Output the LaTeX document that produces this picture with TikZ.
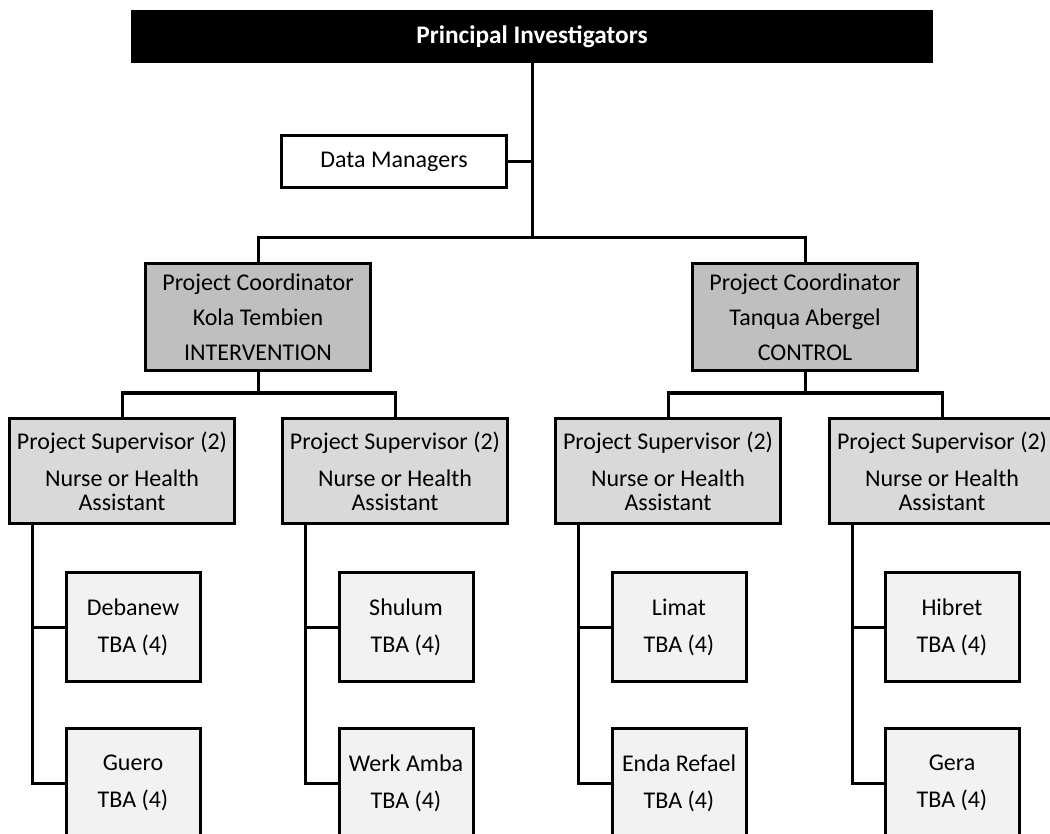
\documentclass[tikz,border=0pt]{standalone}
\usepackage{fontspec}
\setmainfont{Carlito}
\definecolor{coordgray}{HTML}{BFBFBF}
\definecolor{supgray}{HTML}{D9D9D9}
\definecolor{leafgray}{HTML}{F2F2F2}
\begin{document}
\begin{tikzpicture}[x=0.75pt,
					y=-0.75pt,
					line width=2.25pt,
					every node/.style={font=\fontsize{18}{27.75}\selectfont,align=center,inner sep=0pt,outer sep=0pt},
					boss node/.style={fill=black,text=white,minimum width=601.5pt,minimum height=39.75pt,font=\fontsize{19}{20}\selectfont\bfseries},
					data node/.style={draw,fill=white,minimum width=168.75pt,minimum height=39pt},
					coord node/.style={draw,fill=coordgray,minimum width=168.75pt,minimum height=80.25pt,font=\fontsize{18}{26.25}\selectfont},
					sup node/.style={draw,fill=supgray,minimum width=168.75pt,minimum height=78.75pt},
					leaf node/.style={draw,fill=leafgray,minimum width=100.5pt,minimum height=81.75pt}]

  \useasboundingbox (0,0) rectangle (1050,834);

  \node[boss node] (PI) at (532,36.5) {Principal Investigators};
  \node[data node] (DM) at (394,161.5) {Data Managers};

  \node[coord node] (KT) at (258,317) {Project Coordinator\\Kola Tembien\\INTERVENTION};
  \node[coord node] (TA) at (805,317) {Project Coordinator\\Tanqua Abergel\\CONTROL};

  \node[sup node] (S1) at (122,471) {Project Supervisor (2)\\Nurse or Health\\[-9.75pt]Assistant};
  \node[sup node] (S2) at (395,471) {Project Supervisor (2)\\Nurse or Health\\[-9.75pt]Assistant};
  \node[sup node] (S3) at (668,471) {Project Supervisor (2)\\Nurse or Health\\[-9.75pt]Assistant};
  \node[sup node] (S4) at (942,471) {Project Supervisor (2)\\Nurse or Health\\[-9.75pt]Assistant};

  \node[leaf node] (Debanew) at (133,627) {Debanew\\TBA (4)};
  \node[leaf node] (Guero) at (133,783) {Guero\\TBA (4)};
  \node[leaf node] (Shulum) at (406,627) {Shulum\\TBA (4)};
  \node[leaf node] (Werk) at (406,783) {Werk Amba\\TBA (4)};
  \node[leaf node] (Limat) at (679,627) {Limat\\TBA (4)};
  \node[leaf node] (Enda) at (679,783) {Enda Refael\\TBA (4)};
  \node[leaf node] (Hibret) at (952,627) {Hibret\\TBA (4)};
  \node[leaf node] (Gera) at (952,783) {Gera\\TBA (4)};

  \coordinate (hub) at (532,238);
  \coordinate (left fork) at (258,393);
  \coordinate (right fork) at (805,393);
  \coordinate (r1) at ([xshift=17pt]S1.south west);
  \coordinate (r2) at ([xshift=17pt]S2.south west);
  \coordinate (r3) at ([xshift=17pt]S3.south west);
  \coordinate (r4) at ([xshift=17pt]S4.south west);

  \draw (PI) -- (hub);
  \draw (DM) -- (DM -| hub);
  \draw (KT) |- (hub) -| (TA);
  \draw (KT) -- (left fork);
  \draw (TA) -- (right fork);
  \draw (S1) |- (left fork) -| (S2);
  \draw (S3) |- (right fork) -| (S4);

  \draw (r1) |- (Guero) (r1 |- Debanew) -- (Debanew);
  \draw (r2) |- (Werk) (r2 |- Shulum) -- (Shulum);
  \draw (r3) |- (Enda) (r3 |- Limat) -- (Limat);
  \draw (r4) |- (Gera) (r4 |- Hibret) -- (Hibret);
\end{tikzpicture}
\end{document}
